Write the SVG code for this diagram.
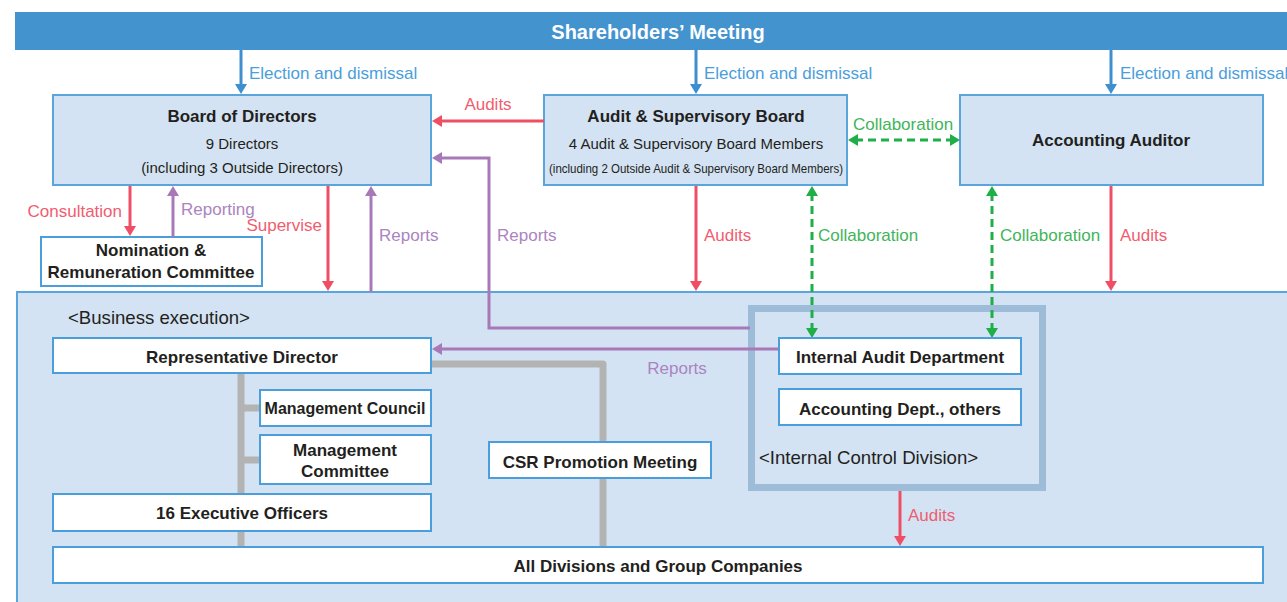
<svg xmlns="http://www.w3.org/2000/svg" width="1287" height="602" viewBox="0 0 1287 602">
<style>
text{font-family:"Liberation Sans",Arial,sans-serif;fill:#231f20}
.t{font-size:17px;font-weight:bold;text-anchor:middle}
.s{font-size:15px;text-anchor:middle}
.lb{font-size:17px}
.blue{fill:#4a9edb}.red{fill:#f05d70}.pur{fill:#ab84c0}.grn{fill:#3fb55a}
.box{fill:#d3e3f3;stroke:#5aa6dc;stroke-width:2}
.wbox{fill:#fff;stroke:#4a9edb;stroke-width:2}
.cb{fill:none;stroke-width:3}
.cblue{stroke:#3d8fd0;marker-end:url(#mb)}
.cred{stroke:#ee4f65;marker-end:url(#mr)}
.cpur{stroke:#a779b8;marker-end:url(#mp)}
.cgrn{stroke:#1fae48;stroke-dasharray:8 5;marker-start:url(#mg);marker-end:url(#mg)}
.gry{fill:none;stroke:#b3b3b3;stroke-width:7;stroke-linejoin:round}
</style>
<defs>
<marker id="mb" viewBox="0 0 10 12" refX="3" refY="6" markerWidth="10" markerHeight="12" markerUnits="userSpaceOnUse" orient="auto-start-reverse"><path d="M0,0L10,6L0,12z" fill="#3d8fd0"/></marker>
<marker id="mr" viewBox="0 0 10 12" refX="3" refY="6" markerWidth="10" markerHeight="12" markerUnits="userSpaceOnUse" orient="auto-start-reverse"><path d="M0,0L10,6L0,12z" fill="#ee4f65"/></marker>
<marker id="mp" viewBox="0 0 10 12" refX="3" refY="6" markerWidth="10" markerHeight="12" markerUnits="userSpaceOnUse" orient="auto-start-reverse"><path d="M0,0L10,6L0,12z" fill="#a779b8"/></marker>
<marker id="mg" viewBox="0 0 10 12" refX="3" refY="6" markerWidth="10" markerHeight="12" markerUnits="userSpaceOnUse" orient="auto-start-reverse"><path d="M0,0L10,6L0,12z" fill="#1fae48"/></marker>
</defs>
<rect width="1287" height="602" fill="#fff"/>

<g id="shareholders">
<rect x="15" y="12" width="1272" height="38" fill="#4393cf"/>
<text x="658" y="39" style="font-size:20px;font-weight:bold;text-anchor:middle;fill:#fff">Shareholders’ Meeting</text>
</g>

<g id="business-execution">
<rect x="17" y="292" width="1280" height="320" class="box"/>
<text x="68" y="324" style="font-size:18.6px">&lt;Business execution&gt;</text>
</g>

<g id="internal-control">
<rect x="751.5" y="308.5" width="291" height="179" fill="none" stroke="#9dbcd7" stroke-width="7"/>
<text x="759" y="464" style="font-size:18.6px">&lt;Internal Control Division&gt;</text>
</g>

<g id="board">
<rect x="53" y="95" width="378" height="90" class="box"/>
<text x="242" y="122" class="t">Board of Directors</text>
<text x="242" y="149" class="s">9 Directors</text>
<text x="242" y="173" class="s">(including 3 Outside Directors)</text>
</g>

<g id="audit-board">
<rect x="544" y="95" width="303" height="90" class="box"/>
<text x="696" y="122" class="t">Audit &amp; Supervisory Board</text>
<text x="696" y="149" class="s">4 Audit &amp; Supervisory Board Members</text>
<text x="696" y="173" class="s" style="font-size:13px" textLength="294" lengthAdjust="spacingAndGlyphs">(including 2 Outside Audit &amp; Supervisory Board Members)</text>
</g>

<g id="accounting-auditor">
<rect x="960" y="95" width="303" height="90" class="box"/>
<text x="1111" y="146" class="t">Accounting Auditor</text>
</g>

<g id="nomination">
<rect x="41" y="237" width="221" height="49" class="wbox"/>
<text x="151" y="256" class="t">Nomination &amp;</text>
<text x="151" y="278" class="t">Remuneration Committee</text>
</g>

<g id="connectors">
<path class="gry" d="M241,373V547M241,408H260M241,460H260M431,364H603V547"/>
<path class="cb cblue" d="M241,50V87"/>
<path class="cb cblue" d="M696,50V87"/>
<path class="cb cblue" d="M1111,50V87"/>
<path class="cb cred" d="M544,121H439"/>
<path class="cb cpur" d="M750,328H489V158H439"/>
<path class="cb cgrn" d="M855,140H953"/>
<path class="cb cred" d="M130,186V229"/>
<path class="cb cpur" d="M173,237V193"/>
<path class="cb cred" d="M328,186V284"/>
<path class="cb cpur" d="M371,292V193"/>
<path class="cb cred" d="M696,186V284"/>
<path class="cb cgrn" d="M812,193V331"/>
<path class="cb cgrn" d="M992,193V331"/>
<path class="cb cred" d="M1111,186V284"/>
<path class="cb cpur" d="M779,349H439"/>
<path class="cb cred" d="M900,491V539"/>
</g>

<g id="labels">
<text x="249" y="79" class="lb blue">Election and dismissal</text>
<text x="704" y="79" class="lb blue">Election and dismissal</text>
<text x="1120" y="79" class="lb blue">Election and dismissal</text>
<text x="488" y="110" class="lb red" text-anchor="middle">Audits</text>
<text x="903" y="130" class="lb grn" text-anchor="middle">Collaboration</text>
<text x="122" y="217" class="lb red" text-anchor="end">Consultation</text>
<text x="181" y="215" class="lb pur">Reporting</text>
<text x="322" y="231" class="lb red" text-anchor="end">Supervise</text>
<text x="379" y="241" class="lb pur">Reports</text>
<text x="497" y="241" class="lb pur">Reports</text>
<text x="704" y="241" class="lb red">Audits</text>
<text x="818" y="241" class="lb grn">Collaboration</text>
<text x="1000" y="241" class="lb grn">Collaboration</text>
<text x="1120" y="241" class="lb red">Audits</text>
<text x="677" y="374" class="lb pur" text-anchor="middle">Reports</text>
<text x="908" y="521" class="lb red">Audits</text>
</g>

<g id="representative-director">
<rect x="53" y="338" width="378" height="35" class="wbox"/>
<text x="242" y="363" class="t">Representative Director</text>
</g>

<g id="management-council">
<rect x="260" y="390" width="171" height="36" class="wbox"/>
<text x="345" y="414" class="t" style="font-size:16px">Management Council</text>
</g>

<g id="management-committee">
<rect x="260" y="435" width="171" height="49" class="wbox"/>
<text x="345" y="456" class="t">Management</text>
<text x="345" y="477" class="t">Committee</text>
</g>

<g id="executive-officers">
<rect x="53" y="494" width="378" height="37" class="wbox"/>
<text x="242" y="519" class="t">16 Executive Officers</text>
</g>

<g id="csr">
<rect x="489" y="442" width="222" height="36" class="wbox"/>
<text x="600" y="468" class="t">CSR Promotion Meeting</text>
</g>

<g id="internal-audit">
<rect x="779" y="338" width="242" height="36" class="wbox"/>
<text x="900" y="363" class="t">Internal Audit Department</text>
</g>

<g id="accounting-dept">
<rect x="779" y="389" width="242" height="36" class="wbox"/>
<text x="900" y="415" class="t">Accounting Dept., others</text>
</g>

<g id="all-divisions">
<rect x="53" y="547" width="1210" height="36" class="wbox"/>
<text x="658" y="572" class="t">All Divisions and Group Companies</text>
</g>
</svg>
